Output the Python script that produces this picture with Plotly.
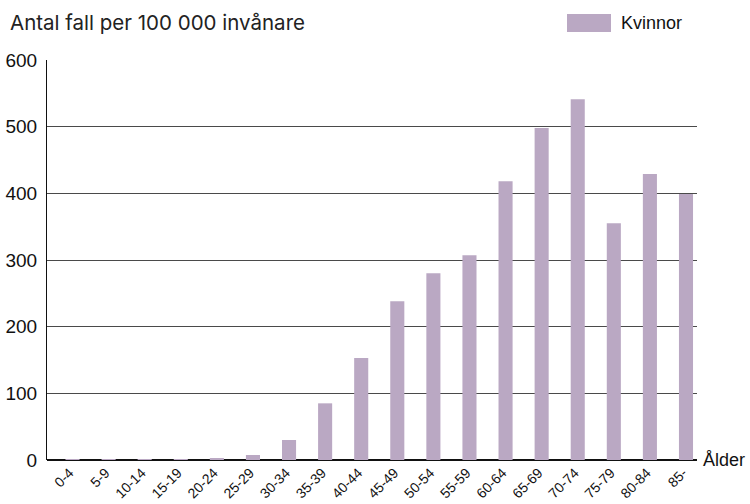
import plotly.graph_objects as go

age_groups = ["0-4", "5-9", "10-14", "15-19", "20-24", "25-29", "30-34", "35-39",
              "40-44", "45-49", "50-54", "55-59", "60-64", "65-69", "70-74",
              "75-79", "80-84", "85-"]
kvinnor = [0.3, 0.3, 0.3, 1, 2.5, 7.5, 30, 85, 153, 238, 280, 307, 418, 498, 541, 355, 429, 399]
y_ticks = [0, 100, 200, 300, 400, 500, 600]

bar_color = "#baa8c3"

fig = go.Figure()
fig.add_trace(go.Bar(
    x=age_groups, y=kvinnor, name="Kvinnor",
    marker=dict(color=bar_color, line=dict(width=0)),
    width=0.39, showlegend=False,
))

fig.update_layout(
    width=750, height=504,
    margin=dict(l=47, r=53, t=60, b=44, autoexpand=False),
    paper_bgcolor="white", plot_bgcolor="white",
    font=dict(family="Liberation Sans, Arial, sans-serif", size=17, color="#111"),
    xaxis=dict(
        type="category", range=[-0.707, 17.305], automargin=False,
        tickangle=-45, tickfont=dict(size=14, color="#111"),
        ticklabelstandoff=1, ticklabelshift=-3,
        showgrid=False, ticks="", showline=False, zeroline=False,
    ),
    yaxis=dict(
        range=[0, 600], tickvals=y_ticks, ticktext=[str(v) for v in y_ticks],
        automargin=False,
        showgrid=True, gridcolor="#4a4a4a", gridwidth=1.3,
        zeroline=True, zerolinecolor="#111", zerolinewidth=2,
        showline=True, linecolor="#111", linewidth=1,
        ticks="", ticklabelstandoff=5,
        tickfont=dict(size=19, color="#111"),
    ),
    shapes=[dict(type="rect", xref="paper", yref="paper",
                 x0=(567 - 47) / 650, x1=(611 - 47) / 650,
                 y0=(460 - 32) / 400, y1=(460 - 14) / 400,
                 fillcolor=bar_color, line=dict(width=0))],
    annotations=[
        dict(text="Antal fall per 100 000 invånare", xref="paper", yref="paper",
             x=(8 - 47) / 650, y=(460 - 23) / 400, xanchor="left", yanchor="middle",
             showarrow=False, font=dict(family="Inter, Roboto, sans-serif", size=20.5, color="#222")),
        dict(text="Kvinnor", xref="paper", yref="paper",
             x=(619 - 47) / 650, y=(460 - 23) / 400, xanchor="left", yanchor="middle",
             showarrow=False, font=dict(size=18, color="#111")),
        dict(text="Ålder", xref="paper", yref="y",
             x=1, y=0, xshift=4, xanchor="left", yanchor="middle",
             showarrow=False, font=dict(size=18, color="#111")),
    ],
    bargap=0.6,
)

fig.write_html("out.html",
               config={"displayModeBar": False},
               post_script="document.body.style.margin='0';document.body.style.overflow='hidden';")
